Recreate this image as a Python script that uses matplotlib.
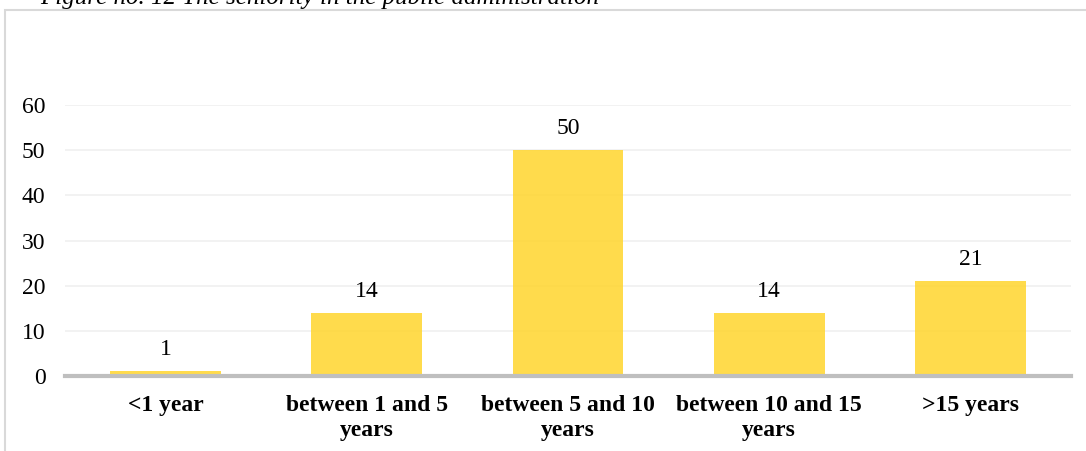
import matplotlib
matplotlib.use("Agg")
import matplotlib.pyplot as plt
from matplotlib.patches import Rectangle

categories = ["<1 year", "between 1 and 5\nyears", "between 5 and 10\nyears",
              "between 10 and 15\nyears", ">15 years"]
values = [1, 14, 50, 14, 21]
yticks = [0, 10, 20, 30, 40, 50, 60]
title = "Figure no. 12 The seniority in the public administration"

plt.rcParams['font.family'] = ['Liberation Serif', 'DejaVu Serif']

fig = plt.figure(figsize=(10.86, 4.51), dpi=100)
# outer border box
fig.patches.append(Rectangle((5/1086, -0.1), 1.2, 1 - 10/451 + 0.1, transform=fig.transFigure,
                             fill=False, edgecolor='#d9d9d9', linewidth=1.5))
fig.text(40/1086, 1 - 4/451, title, fontsize=18, style='italic', ha='left', va='baseline')

ax = fig.add_axes([65/1086, 1 - 376/451, (1071 - 65)/1086, (376 - 105)/451])
x = list(range(len(categories)))
ax.set_axisbelow(True)
ax.yaxis.grid(True, color='#f0f0f0', linewidth=1.2)
bars = ax.bar(x, values, width=0.55, color='#FFD633', alpha=0.88, zorder=2)
for xi, v in zip(x, values):
    ax.annotate(str(v), (xi, v), xytext=(0, 8), textcoords='offset points',
                ha='center', va='bottom', fontsize=17)
ax.set_xlim(-0.5, 4.5)
ax.set_ylim(0, 60)
ax.set_yticks(yticks)
ax.set_xticks(x)
ax.set_xticklabels(categories, fontweight='bold', fontsize=17, linespacing=1.2)
ax.tick_params(axis='both', length=0, labelsize=17)
ax.tick_params(axis='y', pad=14)
ax.tick_params(axis='x', pad=14)
for s in ['top', 'right', 'left']:
    ax.spines[s].set_visible(False)
ax.spines['bottom'].set_color('#bfbfbf')
ax.spines['bottom'].set_linewidth(3)
ax.spines['bottom'].set_zorder(3)

fig.savefig("out.png", dpi=100)
